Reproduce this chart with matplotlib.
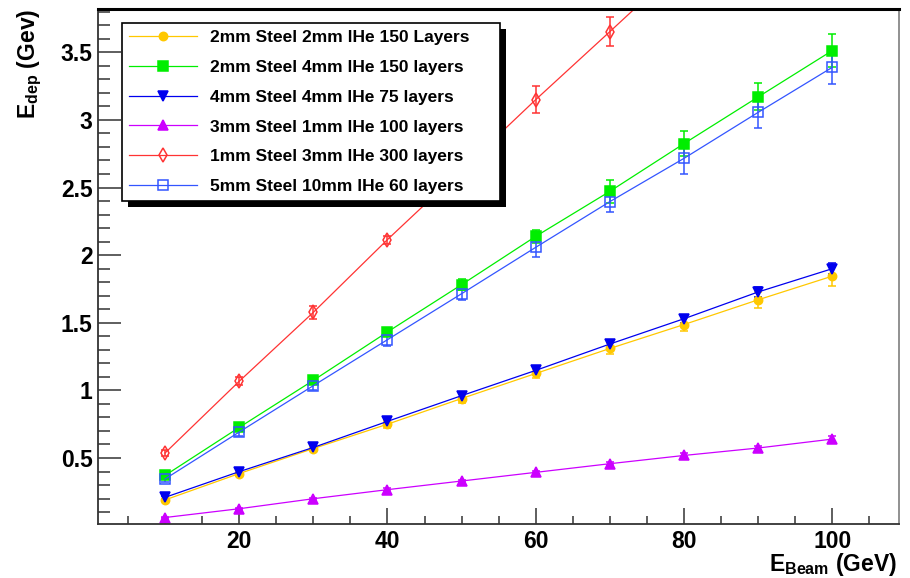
import matplotlib
matplotlib.use("Agg")
import matplotlib.pyplot as plt
from matplotlib.patches import Rectangle
from matplotlib.lines import Line2D
from matplotlib.ticker import MultipleLocator

plt.rcParams['font.family'] = ['Liberation Sans', 'DejaVu Sans']
plt.rcParams['font.weight'] = 'bold'
plt.rcParams['mathtext.fontset'] = 'custom'
plt.rcParams['mathtext.rm'] = 'Liberation Sans:bold'
plt.rcParams['mathtext.bf'] = 'Liberation Sans:bold'

# beam energy (GeV)
ebeam = [10, 20, 30, 40, 50, 60, 70, 80, 90, 100]

# deposited energy (GeV) for each configuration
e_2s_2he_150 = [0.19, 0.385, 0.57, 0.75, 0.94, 1.125, 1.31, 1.487, 1.67, 1.845]
e_2s_4he_150 = [0.371, 0.726, 1.074, 1.432, 1.782, 2.139, 2.472, 2.825, 3.17, 3.513]
e_4s_4he_75 = [0.209, 0.399, 0.578, 0.771, 0.961, 1.148, 1.343, 1.53, 1.728, 1.90]
e_3s_1he_100 = [0.06, 0.125, 0.199, 0.266, 0.33, 0.394, 0.458, 0.519, 0.574, 0.64]
e_1s_3he_300 = [0.537, 1.067, 1.577, 2.115, 2.63, 3.15, 3.653, 4.16, 4.66, 5.15]
e_5s_10he_60 = [0.345, 0.692, 1.035, 1.375, 1.715, 2.058, 2.396, 2.716, 3.056, 3.389]

# errors
err_2s_2he_150 = [0.01, 0.015, 0.02, 0.025, 0.03, 0.035, 0.04, 0.05, 0.06, 0.07]
err_2s_4he_150 = [0.02, 0.02, 0.03, 0.03, 0.04, 0.05, 0.085, 0.09, 0.10, 0.12]
err_4s_4he_75 = [0.01, 0.01, 0.015, 0.02, 0.02, 0.025, 0.03, 0.03, 0.035, 0.04]
err_3s_1he_100 = [0.005, 0.005, 0.008, 0.01, 0.01, 0.012, 0.012, 0.015, 0.015, 0.02]
err_1s_3he_300 = [0.02, 0.03, 0.05, 0.03, 0.08, 0.10, 0.11, 0.12, 0.13, 0.14]
err_5s_10he_60 = [0.02, 0.03, 0.03, 0.05, 0.05, 0.07, 0.075, 0.115, 0.115, 0.12]

labels = ["2mm Steel 2mm lHe 150 Layers",
          "2mm Steel 4mm lHe 150 layers",
          "4mm Steel 4mm lHe 75 layers",
          "3mm Steel 1mm lHe 100 layers",
          "1mm Steel 3mm lHe 300 layers",
          "5mm Steel 10mm lHe 60 layers"]

fig = plt.figure(figsize=(9.1, 5.78), dpi=100)
ax = fig.add_axes([0.108, 0.0934, 0.880, 0.891])

styles = [
    (e_2s_2he_150, err_2s_2he_150, '#FFC800', 'o', 6, True),
    (e_2s_4he_150, err_2s_4he_150, '#00EE00', 's', 7, True),
    (e_4s_4he_75, err_4s_4he_75, '#0000EE', 'v', 7, True),
    (e_3s_1he_100, err_3s_1he_100, '#CC00FF', '^', 7, True),
    (e_1s_3he_300, err_1s_3he_300, '#FF3333', 'd', 7, False),
    (e_5s_10he_60, err_5s_10he_60, '#3355FF', 's', 7.5, False),
]
handles = []
for (vals, errs, col, mk, ms, filled), lab in zip(styles, labels):
    ax.errorbar(ebeam, vals, yerr=errs, color=col, marker=mk, ms=ms,
                mfc=col if filled else 'none', mec=col, mew=1.1,
                lw=0.9, elinewidth=1.1, capsize=3, capthick=1.1)
    handles.append(Line2D([], [], color=col, marker=mk, ms=ms, lw=0.9,
                          mfc=col if filled else 'none', mec=col, mew=1.1, label=lab))

ax.set_xlim(1, 109)
ax.set_ylim(0.012, 3.82)
ax.xaxis.set_major_locator(MultipleLocator(20))
ax.xaxis.set_minor_locator(MultipleLocator(5))
ax.yaxis.set_minor_locator(MultipleLocator(0.1))
ax.set_yticks([0.5, 1, 1.5, 2, 2.5, 3, 3.5])
ax.set_yticklabels(['0.5', '1', '1.5', '2', '2.5', '3', '3.5'])
ax.tick_params(axis='both', which='both', direction='in', top=False, right=False,
               labelsize=16.5, width=1.1, color='#333333')
ax.tick_params(axis='x', which='major', length=11.5, pad=4)
ax.tick_params(axis='x', which='minor', length=5.5)
ax.tick_params(axis='y', which='major', length=16.5, pad=4)
ax.tick_params(axis='y', which='minor', length=8.5)
for lab in ax.get_xticklabels() + ax.get_yticklabels():
    lab.set_fontweight('bold')
for s in ax.spines.values():
    s.set_linewidth(1.3)
    s.set_color('#333333')
ax.spines['top'].set_linewidth(2.2)
ax.spines['top'].set_color('black')
ax.spines['right'].set_color('#888888')

leg = ax.legend(handles=handles, loc='upper left', mode='expand',
                bbox_to_anchor=(0.0296, 0.5, 0.472, 0.473),
                borderaxespad=0, fancybox=False, frameon=True, edgecolor='black',
                framealpha=1, prop={'weight': 'bold', 'size': 12.5},
                handlelength=3.9, handletextpad=0.75, labelspacing=0.84,
                borderpad=0.42, numpoints=1)
leg.get_frame().set_linewidth(1.2)
leg.set_zorder(10)

fig.text(0.033, 0.985, r'$\mathbf{E_{dep}}$ (Gev)', rotation=90, ha='center', va='top',
         fontsize=16.5, fontweight='bold')
fig.text(0.986, 0.012, r'$\mathbf{E_{Beam}}$ (GeV)', ha='right', va='baseline',
         fontsize=16.5, fontweight='bold')

# solid black shadow behind the legend box, ROOT style
fig.canvas.draw()
bb = leg.get_window_extent().transformed(ax.transAxes.inverted())
ox = 6 / (ax.bbox.width)
oy = 6 / (ax.bbox.height)
shadow = Rectangle((bb.x0 + ox, bb.y0 - oy), bb.width, bb.height, transform=ax.transAxes,
                   facecolor='black', edgecolor='none', zorder=9, clip_on=False)
ax.add_patch(shadow)

fig.savefig('out.png', dpi=100)
